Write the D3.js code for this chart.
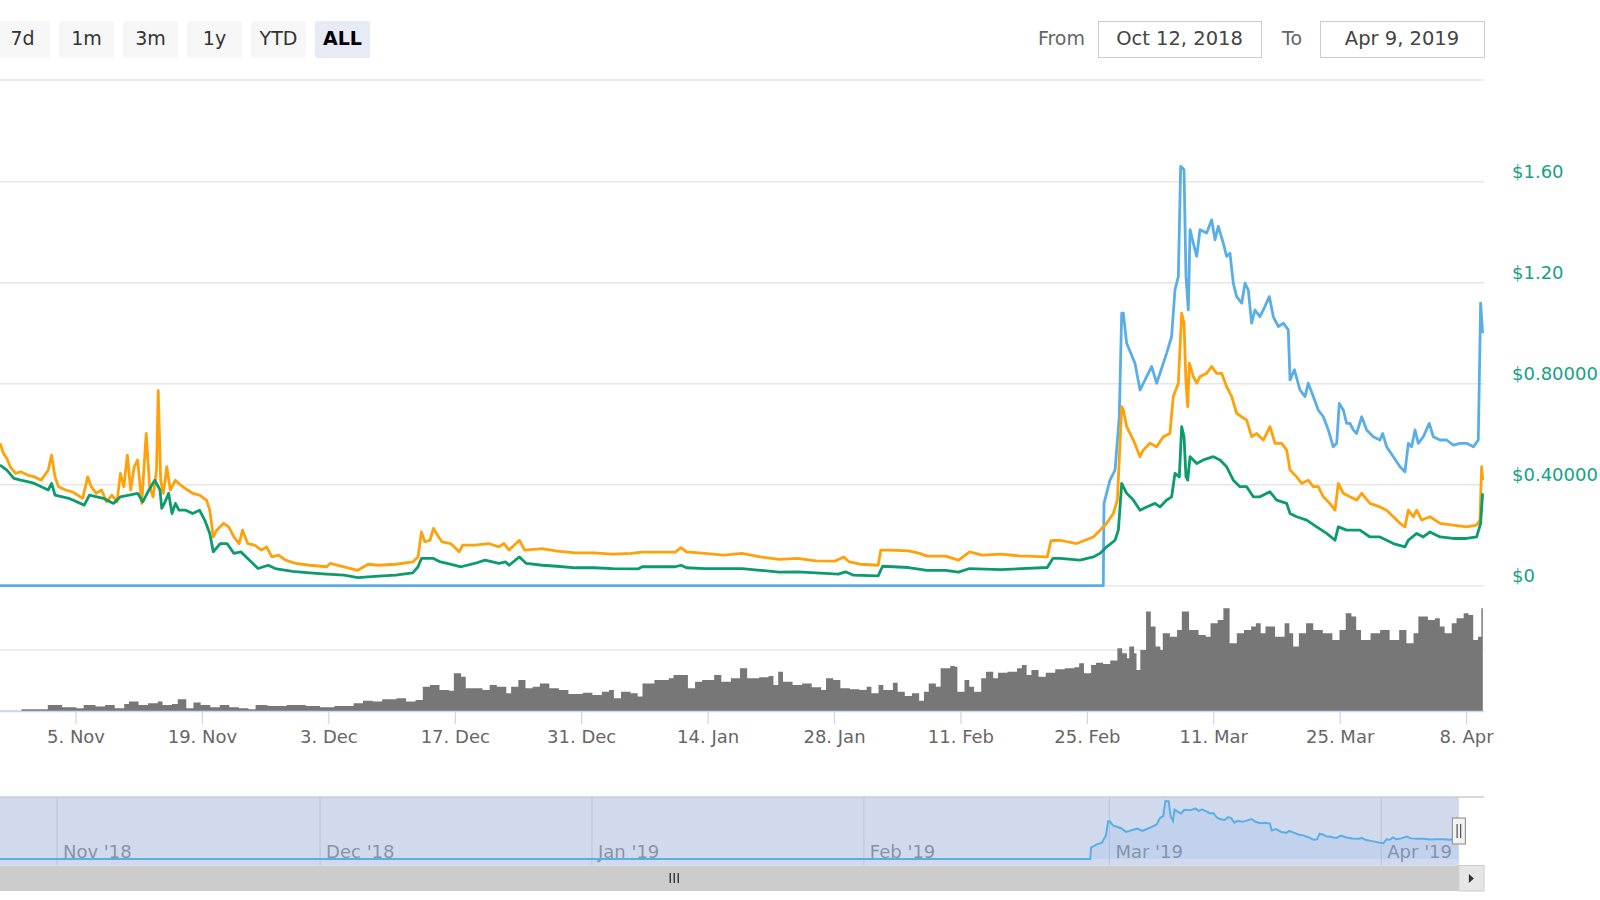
<!DOCTYPE html>
<html><head><meta charset="utf-8">
<script src="https://cdn.jsdelivr.net/npm/d3@7"></script>
<style>
html,body{margin:0;padding:0;background:#fff;overflow:hidden}
svg{display:block;font-family:"DejaVu Sans",sans-serif}
</style></head><body>
<svg id="chart" width="1600" height="900"></svg>
<script>
// ---------------- DATA ----------------
const startDate = "2018-10-12";           // day 0 of the series
const endDay = 179.85;                    // last sample (Apr 9, 2019)
const rangeButtons = ["7d", "1m", "3m", "1y", "YTD", "ALL"];
const activeButton = "ALL";
const fromLabel = "From";
const toLabel = "To";
const fromDateText = "Oct 12, 2018";
const toDateText = "Apr 9, 2019";
const priceTicks = [0, 0.4, 0.8, 1.2, 1.6];
const priceTickLabels = ["$0", "$0.40000", "$0.80000", "$1.20", "$1.60"];
const xTickDates = ["2018-11-05","2018-11-19","2018-12-03","2018-12-17","2018-12-31","2019-01-14",
                    "2019-01-28","2019-02-11","2019-02-25","2019-03-11","2019-03-25","2019-04-08"];
const navMonths = ["2018-11-01","2018-12-01","2019-01-01","2019-02-01","2019-03-01","2019-04-01"];
const volumeGridValue = 50;

// [day offset from startDate, value]
const blueSeries = [[0,0],[137.82,0],[137.90,0.326],[138.56,0.418],[139.12,0.458],[139.59,0.669],[139.86,1.079],[140.04,1.079],[140.41,0.960],[141.33,0.881],[141.89,0.775],[142.62,0.828],[143.18,0.868],[143.73,0.802],[144.47,0.881],[144.84,0.921],[145.39,0.987],[145.76,1.172],[146.13,1.224],[146.39,1.661],[146.76,1.647],[146.98,1.224],[147.24,1.092],[147.43,1.410],[147.79,1.357],[148.17,1.304],[148.53,1.410],[149.27,1.397],[149.82,1.449],[150.19,1.370],[150.56,1.423],[151.11,1.357],[151.48,1.304],[151.85,1.317],[152.22,1.198],[152.59,1.145],[153.15,1.119],[153.52,1.198],[153.88,1.172],[154.25,1.040],[154.62,1.092],[155.17,1.066],[155.54,1.092],[156.21,1.145],[156.65,1.066],[157.21,1.026],[157.76,1.040],[158.31,1.013],[158.50,0.815],[158.99,0.855],[159.61,0.775],[160.16,0.749],[160.52,0.802],[161.08,0.749],[161.63,0.696],[162.19,0.669],[162.74,0.617],[163.29,0.550],[163.67,0.564],[163.96,0.722],[164.40,0.696],[164.77,0.643],[165.14,0.643],[165.51,0.617],[165.88,0.603],[166.44,0.669],[166.99,0.617],[167.72,0.590],[168.46,0.577],[168.76,0.603],[169.20,0.550],[169.94,0.511],[170.68,0.471],[171.23,0.451],[171.60,0.564],[171.97,0.550],[172.34,0.617],[172.71,0.564],[173.26,0.590],[173.92,0.643],[174.37,0.590],[175.11,0.577],[175.85,0.577],[176.58,0.557],[177.32,0.564],[178.06,0.564],[178.80,0.550],[179.35,0.577],[179.61,1.119],[179.83,1.0]];

const orangeSeries = [[15.64,0.564],[16.02,0.524],[16.40,0.504],[16.78,0.471],[17.36,0.445],[17.92,0.451],[18.69,0.438],[19.45,0.431],[20.21,0.418],[20.98,0.458],[21.35,0.517],[21.73,0.431],[22.12,0.392],[22.88,0.379],[23.64,0.372],[24.79,0.346],[25.35,0.431],[25.74,0.392],[26.30,0.366],[26.88,0.379],[27.44,0.332],[28.02,0.359],[28.60,0.332],[28.97,0.445],[29.35,0.392],[29.74,0.517],[30.11,0.379],[30.50,0.471],[30.88,0.498],[31.33,0.326],[31.83,0.603],[32.21,0.392],[32.59,0.352],[32.97,0.458],[33.16,0.772],[33.43,0.418],[33.73,0.366],[34.11,0.471],[34.50,0.379],[35.06,0.418],[35.64,0.398],[36.40,0.379],[36.97,0.366],[37.73,0.359],[38.50,0.339],[38.87,0.299],[39.26,0.193],[39.64,0.220],[40.40,0.247],[40.98,0.233],[41.54,0.193],[42.12,0.167],[42.50,0.220],[43.07,0.167],[43.83,0.161],[44.59,0.141],[45.16,0.154],[45.74,0.114],[46.49,0.121],[47.26,0.101],[48.40,0.088],[49.93,0.081],[51.83,0.075],[52.21,0.088],[53.74,0.075],[55.26,0.061],[56.40,0.085],[57.55,0.081],[59.45,0.085],[61.35,0.094],[61.93,0.114],[62.31,0.213],[62.68,0.174],[63.26,0.180],[63.64,0.227],[64.21,0.193],[64.59,0.174],[65.54,0.167],[66.49,0.134],[66.88,0.161],[68.21,0.161],[69.74,0.167],[70.88,0.154],[71.45,0.167],[72.02,0.141],[73.16,0.180],[73.74,0.141],[75.69,0.147],[77.32,0.137],[79.37,0.130],[81.42,0.130],[83.47,0.125],[85.52,0.128],[86.75,0.133],[90.43,0.133],[91.05,0.151],[91.66,0.134],[93.71,0.128],[95.76,0.121],[97.81,0.128],[99.86,0.114],[101.91,0.104],[103.96,0.108],[106.0,0.098],[108.06,0.097],[109.08,0.114],[109.70,0.094],[110.92,0.085],[112.89,0.081],[113.18,0.141],[114.2,0.141],[116.25,0.138],[117.48,0.128],[118.3,0.117],[120.35,0.117],[121.79,0.101],[123.01,0.134],[124.44,0.121],[126.49,0.125],[128.54,0.118],[131.62,0.114],[132.03,0.178],[133.03,0.180],[134.87,0.167],[136.72,0.193],[137.46,0.220],[138.20,0.247],[138.93,0.286],[139.38,0.339],[139.86,0.709],[140.04,0.696],[140.41,0.630],[141.15,0.577],[141.89,0.511],[142.25,0.537],[142.99,0.564],[143.73,0.550],[144.47,0.590],[145.20,0.603],[145.57,0.749],[146.13,0.802],[146.50,1.079],[146.76,1.040],[146.98,0.802],[147.17,0.709],[147.35,0.881],[147.79,0.828],[148.17,0.802],[148.53,0.828],[149.27,0.841],[149.82,0.868],[150.38,0.841],[150.93,0.841],[151.48,0.788],[152.04,0.749],[152.59,0.683],[153.15,0.669],[153.70,0.656],[154.25,0.590],[154.81,0.603],[155.54,0.577],[156.28,0.630],[156.84,0.564],[157.58,0.564],[158.13,0.537],[158.50,0.458],[159.24,0.431],[159.79,0.405],[160.52,0.418],[161.08,0.392],[161.63,0.392],[162.19,0.352],[162.92,0.326],[163.48,0.299],[163.85,0.405],[164.40,0.366],[165.14,0.352],[165.88,0.339],[166.44,0.366],[167.36,0.326],[168.46,0.312],[169.20,0.299],[169.94,0.273],[170.68,0.247],[171.23,0.233],[171.60,0.299],[172.15,0.273],[172.53,0.299],[173.08,0.260],[174.0,0.273],[175.11,0.247],[176.58,0.240],[178.06,0.233],[179.17,0.240],[179.54,0.260],[179.72,0.471],[179.85,0.418]];

const greenSeries = [[15.64,0.478],[16.40,0.458],[17.17,0.425],[17.92,0.418],[18.69,0.412],[19.45,0.405],[20.21,0.392],[20.98,0.379],[21.35,0.405],[21.73,0.359],[23.26,0.346],[24.97,0.319],[25.54,0.359],[27.07,0.346],[28.21,0.326],[28.97,0.352],[30.88,0.366],[31.45,0.332],[32.02,0.372],[32.78,0.418],[33.36,0.379],[33.55,0.306],[33.92,0.332],[34.31,0.366],[34.69,0.286],[35.06,0.326],[35.45,0.299],[36.21,0.299],[36.97,0.286],[37.73,0.299],[38.31,0.260],[38.87,0.207],[39.26,0.134],[40.02,0.167],[40.78,0.167],[41.54,0.128],[42.31,0.134],[43.07,0.108],[44.21,0.068],[45.35,0.081],[46.12,0.068],[48.02,0.057],[49.93,0.051],[51.83,0.046],[53.74,0.042],[55.26,0.032],[57.55,0.038],[59.45,0.042],[61.35,0.051],[61.93,0.075],[62.31,0.108],[63.64,0.108],[64.40,0.094],[65.16,0.088],[66.69,0.075],[68.21,0.088],[69.35,0.101],[70.88,0.088],[71.64,0.094],[72.02,0.081],[73.16,0.114],[73.93,0.088],[75.69,0.081],[77.32,0.077],[79.37,0.071],[81.42,0.071],[83.47,0.068],[86.34,0.067],[86.75,0.075],[90.43,0.075],[91.05,0.081],[91.66,0.071],[93.71,0.068],[97.81,0.068],[99.86,0.061],[101.91,0.054],[103.96,0.055],[106.0,0.051],[108.47,0.046],[109.28,0.055],[110.1,0.042],[112.89,0.039],[113.38,0.077],[116.25,0.072],[118.3,0.061],[120.35,0.061],[121.79,0.054],[123.01,0.068],[126.49,0.064],[131.62,0.072],[132.23,0.108],[133.03,0.108],[135.24,0.101],[136.72,0.114],[137.46,0.128],[138.20,0.154],[139.12,0.180],[139.49,0.220],[139.86,0.405],[140.41,0.366],[141.15,0.339],[141.89,0.299],[142.62,0.312],[143.55,0.326],[144.10,0.312],[144.84,0.339],[145.39,0.352],[145.76,0.445],[146.24,0.431],[146.50,0.630],[146.76,0.590],[146.98,0.431],[147.17,0.418],[147.43,0.511],[148.17,0.484],[148.90,0.498],[150.01,0.511],[150.75,0.498],[151.48,0.471],[152.22,0.418],[152.96,0.392],[153.70,0.392],[154.43,0.352],[155.17,0.352],[156.28,0.372],[157.02,0.339],[158.13,0.326],[158.50,0.286],[159.24,0.273],[160.35,0.260],[161.45,0.233],[162.56,0.207],[163.48,0.180],[163.85,0.233],[164.77,0.220],[166.25,0.220],[167.36,0.193],[168.46,0.193],[169.94,0.167],[171.23,0.154],[171.60,0.180],[172.53,0.207],[173.26,0.193],[174.0,0.213],[175.11,0.193],[176.58,0.187],[178.06,0.187],[179.17,0.193],[179.61,0.247],[179.83,0.366]];

const volumeSeries = [[15.64,0.3],[18.02,1.4],[20.40,1.4],[20.93,5.0],[22.52,3.1],[24.10,2.3],[24.90,5.0],[26.22,3.6],[27.28,5.0],[28.34,2.3],[29.39,5.8],[29.92,7.7],[30.98,5.0],[32.04,6.3],[33.10,7.7],[33.63,5.0],[34.68,5.8],[35.32,9.6],[36.01,9.6],[36.27,2.3],[37.06,6.9],[37.86,5.0],[38.92,3.1],[39.97,5.0],[41.03,3.1],[42.09,2.3],[43.15,1.4],[43.94,5.0],[45.26,4.1],[47.38,5.0],[49.50,4.1],[51.08,3.1],[52.67,4.1],[54.79,6.3],[55.84,8.5],[56.90,7.7],[57.96,9.6],[59.55,10.4],[60.61,7.7],[61.66,9.0],[62.46,19.9],[63.25,21.3],[64.31,17.2],[65.37,16.7],[65.90,30.9],[66.69,28.1],[67.22,18.6],[68.01,18.6],[69.07,17.2],[69.86,21.3],[70.66,19.9],[71.71,14.5],[72.24,19.9],[73.04,25.4],[73.83,18.6],[74.62,19.9],[75.42,22.6],[76.47,18.6],[77.53,17.2],[78.59,13.9],[80.18,15.0],[81.24,13.1],[82.29,15.8],[83.09,17.2],[83.62,10.4],[84.41,15.8],[85.47,14.5],[86.26,11.8],[86.79,22.6],[88.11,25.4],[89.70,26.8],[90.23,29.5],[91.02,29.5],[91.82,18.6],[92.61,24.0],[93.40,25.4],[94.73,29.5],[95.52,24.0],[96.58,26.8],[97.59,35.0],[98.38,26.8],[99.71,27.6],[100.76,28.7],[101.29,21.3],[101.82,32.2],[102.35,24.0],[103.41,21.3],[104.47,22.6],[105.53,19.4],[106.58,17.2],[107.11,26.8],[107.91,25.4],[108.70,18.6],[109.76,17.8],[110.82,17.2],[111.61,19.9],[112.14,14.5],[112.93,21.3],[113.46,17.2],[114.52,23.2],[115.05,15.8],[115.84,12.3],[116.63,14.5],[117.43,8.5],[117.96,15.8],[118.49,22.6],[119.28,19.9],[119.81,35.0],[120.87,36.9],[121.40,36.3],[121.66,15.8],[122.45,25.4],[122.98,19.9],[123.51,15.8],[124.30,26.8],[124.83,32.2],[125.63,26.8],[126.16,31.4],[127.21,32.2],[128.27,35.0],[128.80,37.7],[129.33,29.5],[129.86,33.6],[130.65,28.1],[131.45,31.4],[132.50,34.2],[133.56,35.0],[134.62,35.8],[135.15,39.1],[135.68,30.9],[136.47,37.7],[137.0,39.6],[137.79,38.5],[138.59,41.3],[139.38,51.4],[139.91,47.3],[140.44,43.2],[140.70,52.8],[141.23,47.3],[141.50,33.6],[141.92,50.0],[142.56,81.5],[143.08,69.2],[143.61,52.8],[144.14,50.0],[144.41,63.7],[145.20,60.9],[145.99,66.4],[146.52,81.5],[147.32,66.4],[148.37,62.3],[149.17,60.9],[149.70,71.9],[150.49,74.6],[151.12,84.2],[151.81,55.5],[152.61,63.7],[153.40,66.4],[154.19,69.2],[154.72,71.9],[155.25,63.7],[155.78,69.2],[156.84,60.9],[157.90,71.9],[158.43,63.7],[158.85,52.8],[159.48,63.7],[160.28,71.9],[161.07,66.4],[162.13,63.7],[163.19,58.2],[163.98,66.4],[164.67,80.1],[165.30,77.4],[165.83,66.4],[166.36,58.2],[167.42,63.7],[168.48,66.4],[169.53,58.2],[170.59,66.4],[171.39,55.5],[172.18,63.7],[172.71,77.4],[173.77,74.6],[174.56,76.0],[175.09,69.2],[175.62,63.7],[176.41,71.9],[176.94,76.0],[177.73,80.1],[178.26,78.7],[178.79,58.2],[179.32,60.9],[179.69,84.2],[179.85,82.8]];

// ---------------- CHART ----------------
const svg = d3.select("#chart");
const parse = d3.utcParse("%Y-%m-%d");
const t0 = parse(startDate);
const dayToDate = d => new Date(t0.getTime() + d * 864e5);
const plotRight = 1484;
const C = {blue: "#5aaee6", orange: "#ffa10a", green: "#0b9b6f", vol: "#777777",
           grid: "#e6e6e6", axis: "#ccd6eb", label: "#666666", ylabel: "#16a085"};

const x = d3.scaleUtc().domain([dayToDate(0), dayToDate(endDay)]).range([-141.2, 1482.8]);
const y = d3.scaleLinear().domain([0, 1.6]).range([585.7, 181.7]);
const vy = d3.scaleLinear().domain([0, 100]).range([711, 589]);
const nx = d3.scaleUtc().domain([dayToDate(0), dayToDate(endDay)]).range([-118.4, 1458.9]);
const ny = d3.scaleLinear().domain([0, 1.66]).range([859, 801]);

// ---- range selector ----
const btn = svg.append("g");
rangeButtons.forEach((b, i) => {
  const bx = -5 + i * 64;
  btn.append("rect").attr("x", bx).attr("y", 21).attr("width", 55).attr("height", 37).attr("rx", 2)
    .attr("fill", b === activeButton ? "#e6ebf5" : "#f7f7f7");
  btn.append("text").attr("x", bx + 27.5).attr("y", 45).attr("text-anchor", "middle")
    .attr("font-size", 19).attr("fill", b === activeButton ? "#000" : "#333")
    .attr("font-weight", b === activeButton ? "bold" : "normal").text(b);
});
svg.append("text").attr("x", 1085).attr("y", 45).attr("text-anchor", "end").attr("font-size", 19)
  .attr("fill", "#666").text(fromLabel);
svg.append("text").attr("x", 1282).attr("y", 45).attr("font-size", 19).attr("fill", "#666").text(toLabel);
[[1098, 163, fromDateText], [1320, 164, toDateText]].forEach(([bx, w, t]) => {
  svg.append("rect").attr("x", bx + 0.5).attr("y", 21.5).attr("width", w).attr("height", 36)
    .attr("fill", "#fff").attr("stroke", "#cccccc");
  svg.append("text").attr("x", bx + w / 2).attr("y", 45).attr("text-anchor", "middle")
    .attr("font-size", 19.5).attr("fill", "#444").text(t);
});
svg.append("line").attr("x1", 0).attr("x2", plotRight).attr("y1", 80).attr("y2", 80)
  .attr("stroke", C.grid).attr("stroke-width", 1.5);

// ---- price gridlines & labels ----
const gy = svg.append("g");
gy.selectAll("line").data(priceTicks).join("line")
  .attr("x1", 0).attr("x2", plotRight).attr("y1", d => y(d)).attr("y2", d => y(d))
  .attr("stroke", C.grid).attr("stroke-width", 1.5);
const yAxis = d3.axisRight(y).tickValues(priceTicks).tickSize(0).tickPadding(0)
  .tickFormat((d, i) => priceTickLabels[i]);
const yg = svg.append("g").attr("transform", "translate(1512,0)").call(yAxis);
yg.select(".domain").remove();
yg.selectAll("text").attr("font-family", "DejaVu Sans").attr("font-size", 18).attr("fill", C.ylabel)
  .attr("x", 0).attr("dy", null).attr("y", -4.5);

// ---- volume ----
svg.append("line").attr("x1", 0).attr("x2", plotRight)
  .attr("y1", vy(volumeGridValue)).attr("y2", vy(volumeGridValue))
  .attr("stroke", C.grid).attr("stroke-width", 1.5);
const volArea = d3.area().curve(d3.curveStepAfter)
  .x(d => x(dayToDate(d[0]))).y0(vy(0)).y1(d => vy(d[1]));
svg.append("path").datum(volumeSeries).attr("d", volArea).attr("fill", C.vol);

// ---- x axis ----
const xAxis = d3.axisBottom(x).tickValues(xTickDates.map(parse)).tickFormat(d3.utcFormat("%-d. %b"))
  .tickSize(13).tickPadding(8);
const xg = svg.append("g").attr("transform", `translate(0,${vy(0)})`).call(xAxis);
xg.select(".domain").remove();
xg.selectAll(".tick line").attr("stroke", C.axis).attr("stroke-width", 1.2);
xg.selectAll("text").attr("font-family", "DejaVu Sans").attr("font-size", 18).attr("fill", C.label)
  .attr("y", 26).attr("dy", "0.32em");
svg.append("line").attr("x1", 0).attr("x2", plotRight).attr("y1", vy(0) + 0.5).attr("y2", vy(0) + 0.5)
  .attr("stroke", C.axis).attr("stroke-width", 1.5);

// ---- price lines ----
const line = d3.line().x(d => x(dayToDate(d[0]))).y(d => y(d[1]));
[[blueSeries, C.blue], [orangeSeries, C.orange], [greenSeries, C.green]].forEach(([data, col]) => {
  svg.append("path").datum(data).attr("d", line).attr("fill", "none").attr("stroke", col)
    .attr("stroke-width", 2.8).attr("stroke-linejoin", "round");
});

// ---- navigator ----
const nav = svg.append("g");
const navTop = 797, navBottom = 865.5;
nav.selectAll("line.m").data(navMonths.map(parse)).join("line").attr("class", "m")
  .attr("x1", d => nx(d)).attr("x2", d => nx(d)).attr("y1", navTop).attr("y2", navBottom)
  .attr("stroke", "#e6e6e6").attr("stroke-width", 1.2);
nav.selectAll("text").data(navMonths.map(parse)).join("text")
  .attr("x", d => nx(d) + 6).attr("y", 857.5).attr("font-size", 18).attr("fill", "#999")
  .text(d3.utcFormat("%b '%y"));
nav.append("rect").attr("x", nx(dayToDate(0))).attr("y", navTop)
  .attr("width", nx(dayToDate(endDay)) - nx(dayToDate(0))).attr("height", navBottom - navTop)
  .attr("fill", "rgba(102,133,194,0.3)");
const navArea = d3.area().x(d => nx(dayToDate(d[0]))).y0(ny(0)).y1(d => ny(d[1]));
const navLine = d3.line().x(d => nx(dayToDate(d[0]))).y(d => ny(d[1]));
nav.append("path").datum(blueSeries).attr("d", navArea).attr("fill", "rgba(90,160,230,0.12)");
nav.append("path").datum(blueSeries).attr("d", navLine).attr("fill", "none")
  .attr("stroke", C.blue).attr("stroke-width", 2);
nav.append("line").attr("x1", 0).attr("x2", plotRight).attr("y1", navTop).attr("y2", navTop)
  .attr("stroke", "#cccccc").attr("stroke-width", 1.5);
// handle
const hx = nx(dayToDate(endDay));
nav.append("rect").attr("x", hx - 6.5).attr("y", 818).attr("width", 13).attr("height", 26)
  .attr("fill", "#f2f2f2").attr("stroke", "#999").attr("stroke-width", 1.2);
[-1.8, 1.8].forEach(o => nav.append("line").attr("x1", hx + o).attr("x2", hx + o)
  .attr("y1", 824).attr("y2", 838).attr("stroke", "#333").attr("stroke-width", 1));

// ---- scrollbar ----
const sb = svg.append("g");
sb.append("rect").attr("x", 0).attr("y", navBottom).attr("width", plotRight).attr("height", 25.5)
  .attr("fill", "#f2f2f2");
sb.append("rect").attr("x", nx(dayToDate(0))).attr("y", navBottom)
  .attr("width", hx - nx(dayToDate(0))).attr("height", 25.5).attr("fill", "#cccccc");
const gx = (nx(dayToDate(0)) + hx) / 2 + 4;
[-4, 0, 4].forEach(o => sb.append("line").attr("x1", gx + o).attr("x2", gx + o)
  .attr("y1", 873).attr("y2", 883).attr("stroke", "#333").attr("stroke-width", 1.4));
sb.append("rect").attr("x", hx).attr("y", navBottom).attr("width", plotRight - hx).attr("height", 25.5)
  .attr("fill", "#e6e6e6").attr("stroke", "#cccccc").attr("stroke-width", 1);
sb.append("path").attr("d", `M${hx + 10},${874} L${hx + 15},${878.5} L${hx + 10},${883} Z`).attr("fill", "#333");
</script>
</body></html>
